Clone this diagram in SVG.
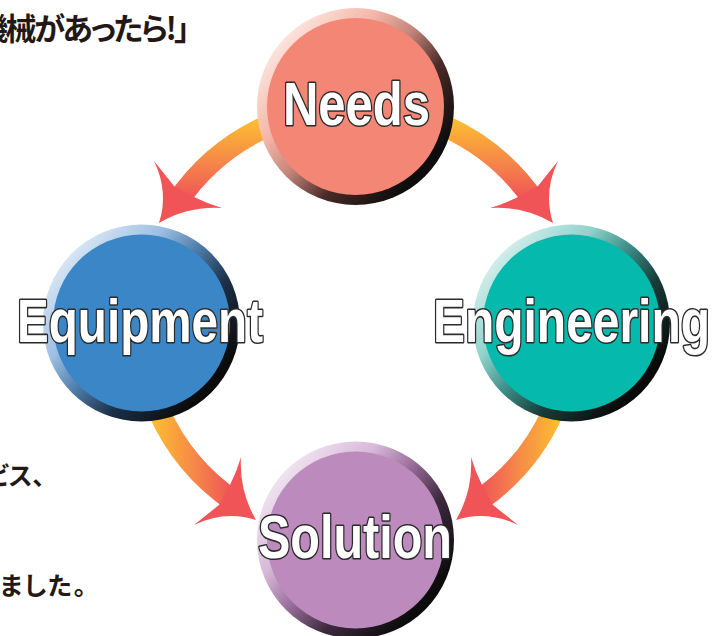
<svg xmlns="http://www.w3.org/2000/svg" xmlns:xlink="http://www.w3.org/1999/xlink" width="712" height="636" viewBox="0 0 712 636">
  <style>
    .lbl { font-family: "Liberation Sans", Arial, sans-serif; font-weight: bold; font-size: 62px; fill: #ffffff; stroke: #2b2b2b; stroke-width: 3.2px; stroke-linejoin: round; paint-order: stroke; }
    .jp { font-family: "Noto Sans CJK JP", sans-serif; fill: #231815; font-feature-settings: "palt"; }
    .head { font-size: 31px; font-weight: bold; }
    .body { font-size: 25px; font-weight: bold; }
    .band { fill: none; stroke: url(#bandGrad); stroke-width: 22; }
    .ahead { fill: #F05457; }
  </style>
  <defs>
    <linearGradient id="bandGrad" gradientUnits="userSpaceOnUse" x1="0" y1="120" x2="0" y2="200">
      <stop offset="0" stop-color="#FDBD31"/>
      <stop offset="0.5" stop-color="#F68A48"/>
      <stop offset="1" stop-color="#EF5257"/>
    </linearGradient>
    <linearGradient id="ringNeeds" x1="0.1" y1="0.15" x2="0.85" y2="0.8">
      <stop offset="0" stop-color="#FDE8E2"/>
      <stop offset="0.3" stop-color="#F4B6A7"/>
      <stop offset="0.5" stop-color="#C4857A"/>
      <stop offset="0.72" stop-color="#4A2A26"/>
      <stop offset="1" stop-color="#0D0D0D"/>
    </linearGradient>
    <linearGradient id="ringEquip" x1="0.1" y1="0.15" x2="0.85" y2="0.8">
      <stop offset="0" stop-color="#DDE9F6"/>
      <stop offset="0.3" stop-color="#9FC0E3"/>
      <stop offset="0.5" stop-color="#4F7EAB"/>
      <stop offset="0.72" stop-color="#1C3048"/>
      <stop offset="1" stop-color="#0B0B0B"/>
    </linearGradient>
    <linearGradient id="ringEng" x1="0.1" y1="0.15" x2="0.85" y2="0.8">
      <stop offset="0" stop-color="#D8F0ED"/>
      <stop offset="0.3" stop-color="#8FD3CC"/>
      <stop offset="0.5" stop-color="#3D8F88"/>
      <stop offset="0.72" stop-color="#183C39"/>
      <stop offset="1" stop-color="#0A0A0A"/>
    </linearGradient>
    <linearGradient id="ringSol" x1="0.1" y1="0.15" x2="0.85" y2="0.8">
      <stop offset="0" stop-color="#F2E7F2"/>
      <stop offset="0.3" stop-color="#D7B8D8"/>
      <stop offset="0.5" stop-color="#9A6F9B"/>
      <stop offset="0.72" stop-color="#3E2A3F"/>
      <stop offset="1" stop-color="#0C0C0C"/>
    </linearGradient>
    <g id="arrow">
      <path class="band" d="M 268.1,125.7 A 216 216 0 0 0 176.9,202.2"/>
      <path class="ahead" d="M 159,223 Q 169,192 154,161 Q 166,176 174,186 L 194,197 Q 208,204 222,208 Q 188,206 159,223 Z"/>
    </g>
  </defs>

  <g id="connectors">
    <use id="needs-to-equipment" xlink:href="#arrow"/>
    <use id="needs-to-engineering" xlink:href="#arrow" transform="translate(712,0) scale(-1,1)"/>
    <use id="equipment-to-solution" xlink:href="#arrow" transform="rotate(-90 356 323)"/>
    <use id="engineering-to-solution" xlink:href="#arrow" transform="translate(712,0) scale(-1,1) rotate(-90 356 323)"/>
  </g>

  <g id="needs">
    <circle cx="355.5" cy="106.5" r="98.5" fill="url(#ringNeeds)"/>
    <circle cx="355.5" cy="106.5" r="88.5" fill="#F38674"/>
    <text class="lbl" x="283" y="125" textLength="147" lengthAdjust="spacingAndGlyphs">Needs</text>
  </g>

  <g id="equipment">
    <circle cx="141.5" cy="323" r="98.5" fill="url(#ringEquip)"/>
    <circle cx="141.5" cy="323" r="88.5" fill="#3A86C6"/>
    <text class="lbl" x="17" y="342" textLength="246" lengthAdjust="spacingAndGlyphs">Equipment</text>
  </g>

  <g id="engineering">
    <circle cx="571.5" cy="323" r="98.5" fill="url(#ringEng)"/>
    <circle cx="571.5" cy="323" r="88.5" fill="#05B9AD"/>
    <text class="lbl" x="433" y="342" textLength="277" lengthAdjust="spacingAndGlyphs">Engineering</text>
  </g>

  <g id="solution">
    <circle cx="355.5" cy="540" r="98.5" fill="url(#ringSol)"/>
    <circle cx="355.5" cy="540" r="88.5" fill="#BC8ABD"/>
    <text class="lbl" x="258" y="558" textLength="194" lengthAdjust="spacingAndGlyphs">Solution</text>
  </g>

  <g id="side-text">
    <text class="jp head" x="-23" y="40" textLength="213" lengthAdjust="spacing">機械があったら!」</text>
    <text class="jp body" x="-14" y="485">ビス、</text>
    <text class="jp body" x="0" y="595" textLength="86" lengthAdjust="spacing">ました。</text>
  </g>
</svg>
